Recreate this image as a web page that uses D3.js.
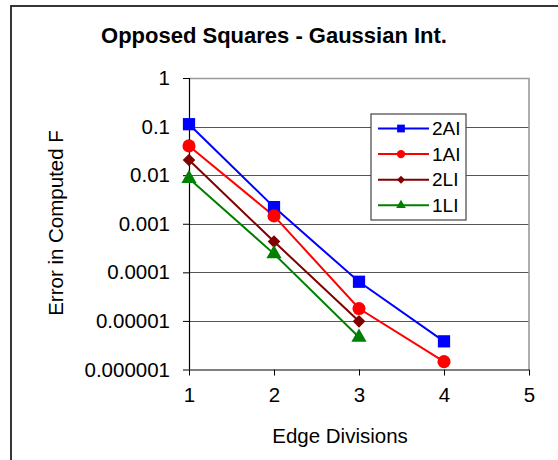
<!DOCTYPE html>
<html><head><meta charset="utf-8">
<script src="https://cdn.jsdelivr.net/npm/d3@7"></script>
<style>body{margin:0;background:#fff}svg{display:block;font-family:Arial,"Liberation Sans",sans-serif}</style>
</head><body><svg id="c" width="558" height="460"></svg>
<script>
const title = "Opposed Squares - Gaussian Int.";
const xLabel = "Edge Divisions";
const yLabel = "Error in Computed F";
const xTicks = [1, 2, 3, 4, 5];
const yTicks = [1, 0.1, 0.01, 0.001, 0.0001, 0.00001, 0.000001];
const yTickLabels = ["1", "0.1", "0.01", "0.001", "0.0001", "0.00001", "0.000001"];
const seriesNames = ["2AI", "1AI", "2LI", "1LI"];
const seriesColors = ["#0000ff", "#ff0000", "#800000", "#008000"];
const seriesSymbols = ["square", "circle", "diamond", "triangle"];
const x2AI = [1, 2, 3, 4];
const y2AI = [0.112, 0.0022, 0.000064, 0.0000038];
const x1AI = [1, 2, 3, 4];
const y1AI = [0.040, 0.00145, 0.000018, 0.00000145];
const x2LI = [1, 2, 3];
const y2LI = [0.0205, 0.00043, 0.0000098];
const x1LI = [1, 2, 3];
const y1LI = [0.0085, 0.00024, 0.0000046];

const series = [
  {xs: x2AI, ys: y2AI},
  {xs: x1AI, ys: y1AI},
  {xs: x2LI, ys: y2LI},
  {xs: x1LI, ys: y1LI}
].map((s, i) => ({name: seriesNames[i], color: seriesColors[i], sym: seriesSymbols[i],
   pts: s.xs.map((xv, j) => [xv, s.ys[j]])}));

const svg = d3.select("#c");
const L = 189, R = 529, T = 78, B = 369.5;
const x = d3.scaleLinear().domain([1, 5]).range([L, R]);
const y = d3.scaleLog().domain([0.000001, 1]).range([B, T]);

// outer frame
svg.append("rect").attr("x", 11).attr("y", 6).attr("width", 600).attr("height", 600)
  .attr("fill", "none").attr("stroke", "#222").attr("stroke-width", 1.8);

// title
svg.append("text").attr("x", 274).attr("y", 43).attr("text-anchor", "middle")
  .attr("font-size", 22).attr("font-weight", "bold").text(title);

// gridlines
svg.append("g").selectAll("line").data(yTicks.slice(1, -1)).join("line")
  .attr("x1", L).attr("x2", R).attr("y1", d => Math.round(y(d)) + 0.5).attr("y2", d => Math.round(y(d)) + 0.5)
  .attr("stroke", "#555").attr("stroke-width", 1.2);
// plot border top/right
svg.append("path").attr("d", `M${L},${T + 0.5}H${R}V${B}`).attr("fill", "none")
  .attr("stroke", "#999").attr("stroke-width", 1.6);

// y axis
const yAxis = d3.axisLeft(y).tickValues(yTicks).tickFormat((d, i) => yTickLabels[i]).tickSize(6).tickPadding(13);
const gy = svg.append("g").attr("transform", `translate(${L},0)`).call(yAxis);
gy.select(".domain").attr("stroke", "#000").attr("stroke-width", 1.2).attr("d", `M0.5,${T}V${B}`);
gy.selectAll(".tick line").attr("stroke", "#000").attr("x1", 0.5);
gy.selectAll(".tick text").attr("font-size", 20.5).attr("font-family", "Arial, 'Liberation Sans', sans-serif").attr("fill", "#000");

// x axis
const xAxis = d3.axisBottom(x).tickValues(xTicks).tickFormat(d3.format("d")).tickSize(6).tickPadding(12);
const gx = svg.append("g").attr("transform", `translate(0,${B})`).call(xAxis);
gx.select(".domain").attr("stroke", "#000").attr("stroke-width", 1.2).attr("d", `M${L},0.5H${R}`);
gx.selectAll(".tick line").attr("stroke", "#000");
gx.selectAll(".tick text").attr("font-size", 20.5).attr("font-family", "Arial, 'Liberation Sans', sans-serif").attr("fill", "#000");

// axis titles
svg.append("text").attr("x", 340).attr("y", 443).attr("text-anchor", "middle")
  .attr("font-size", 20.5).text(xLabel);
svg.append("text").attr("transform", "translate(63,223) rotate(-90)").attr("text-anchor", "middle")
  .attr("font-size", 20.5).text(yLabel);

const symType = {square: d3.symbolSquare, circle: d3.symbolCircle, diamond: d3.symbolSquare, triangle: d3.symbolTriangle};
const symSize = {square: 150, circle: 135, diamond: 80, triangle: 100};
const symRot = {square: 0, circle: 0, diamond: 45, triangle: 0};
const line = d3.line().x(d => x(d[0])).y(d => y(d[1]));

series.forEach(s => {
  svg.append("path").datum(s.pts).attr("d", line).attr("fill", "none")
    .attr("stroke", s.color).attr("stroke-width", 2);
});
series.forEach(s => {
  svg.append("g").selectAll("path").data(s.pts).join("path")
    .attr("transform", d => `translate(${x(d[0])},${y(d[1])}) rotate(${symRot[s.sym]})`)
    .attr("d", d3.symbol().type(symType[s.sym]).size(symSize[s.sym]))
    .attr("fill", s.color);
});

// legend
const lg = svg.append("g");
lg.append("rect").attr("x", 371).attr("y", 114).attr("width", 95).attr("height", 106)
  .attr("fill", "#fff").attr("stroke", "#444").attr("stroke-width", 1.2);
series.forEach((s, i) => {
  const ly = 128.5 + i * 25.6;
  lg.append("line").attr("x1", 378).attr("x2", 429).attr("y1", ly).attr("y2", ly)
    .attr("stroke", s.color).attr("stroke-width", 2);
  lg.append("path").attr("transform", `translate(401,${ly}) rotate(${symRot[s.sym]})`)
    .attr("d", d3.symbol().type(symType[s.sym]).size(symSize[s.sym] * 0.4)).attr("fill", s.color);
  lg.append("text").attr("x", 432).attr("y", ly).attr("dy", "0.35em").attr("font-size", 19).text(s.name);
});
</script></body></html>
